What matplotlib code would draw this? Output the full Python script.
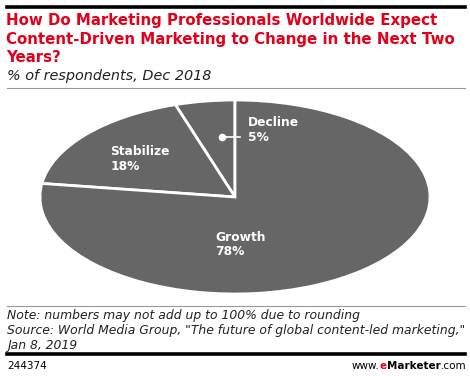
import matplotlib.pyplot as plt
from matplotlib.lines import Line2D

# ---- data ----
labels = ["Decline", "Stabilize", "Growth"]
values = [5, 18, 78]
pie_color = "#666666"
title_lines = ["How Do Marketing Professionals Worldwide Expect",
               "Content-Driven Marketing to Change in the Next Two",
               "Years?"]
subtitle = "% of respondents, Dec 2018"
notes = ["Note: numbers may not add up to 100% due to rounding",
         "Source: World Media Group, \"The future of global content-led marketing,\"",
         "Jan 8, 2019"]
chart_id = "244374"

W, H = 470, 376
fig = plt.figure(figsize=(W / 100, H / 100), dpi=100)

def px(x, y):
    # pixel (top-left origin) -> figure fraction
    return x / W, 1 - y / H

def hline(y, x0, x1, color, lw):
    fig.add_artist(Line2D([x0 / W, x1 / W], [1 - y / H, 1 - y / H],
                          color=color, lw=lw, transform=fig.transFigure))

# ---- header ----
hline(7, 7, 465, "black", 2.6)
for i, t in enumerate(title_lines):
    fig.text(*px(6, 21 + i * 18.2), t, color="#e2001a", fontsize=10.8,
             fontweight="bold", va="center", ha="left")
fig.text(*px(7, 76), subtitle, fontsize=10.4, style="italic", va="center",
         ha="left", color="#222222")
hline(88, 7, 465, "#999999", 0.8)

# ---- pie (stretched to an ellipse) ----
cx, cy, a, b = 235, 197, 195, 97
ax = fig.add_axes([(cx - a) / W, (H - cy - b) / H, 2 * a / W, 2 * b / H])
wedges, _ = ax.pie(values, startangle=90, counterclock=True,
                   colors=[pie_color] * 3,
                   wedgeprops=dict(edgecolor="white", linewidth=2))
for w in wedges:
    w.set_clip_on(False)
ax.set_aspect("auto")
ax.set_xlim(-1, 1)
ax.set_ylim(-1, 1)
ax.axis("off")

lab_pos = {"Decline": (0.067, 0.69), "Stabilize": (-0.64, 0.39),
           "Growth": (-0.10, -0.49)}
for lab, v in zip(labels, values):
    x, y = lab_pos[lab]
    ax.text(x, y, f"{lab}\n{v}%", color="white", fontsize=8.8,
            fontweight="bold", ha="left", va="center", linespacing=1.15)
# leader for small slice
ax.plot([-0.067, 0.026], [0.62, 0.62], color="white", lw=1.2, clip_on=False)
ax.plot([-0.067], [0.62], "o", color="white", ms=4.5, clip_on=False)

# ---- footer ----
hline(306, 7, 465, "#999999", 0.8)
for i, t in enumerate(notes):
    fig.text(*px(7, 316 + i * 14.5), t, fontsize=8.9, style="italic",
             va="center", ha="left", color="#222222")
hline(354, 7, 465, "black", 2.6)
fig.text(*px(7, 366), chart_id, fontsize=7.5, va="center", ha="left")

parts = [("www.", "normal", "black"), ("e", "bold", "#e2001a"),
         ("Marketer", "bold", "black"), (".com", "normal", "black")]
prev = fig.text(*px(352, 366), parts[0][0], fontsize=7.5, va="center",
                ha="left", fontweight=parts[0][1], color=parts[0][2])
for txt, fw, col in parts[1:]:
    prev = fig.add_artist(plt.Annotation(
        txt, xy=(1, 0.5), xycoords=prev, va="center", ha="left",
        fontsize=7.5, fontweight=fw, color=col, annotation_clip=False))

fig.savefig("out.png", dpi=100)
